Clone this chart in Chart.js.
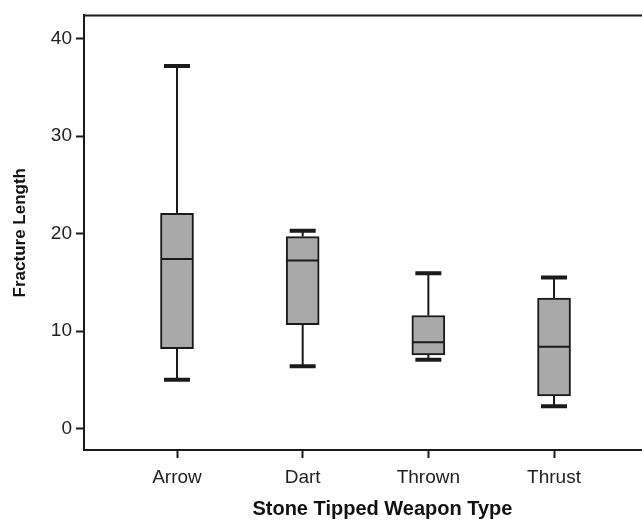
<!DOCTYPE html>
<html>
<head>
<meta charset="utf-8">
<script src="https://cdn.jsdelivr.net/npm/chart.js@4/dist/chart.umd.min.js"></script>
<style>
  html, body { margin: 0; padding: 0; background: #fff; }
  #box { width: 642px; height: 522px; }
</style>
</head>
<body>
<div id="box"><canvas id="boxChart" width="642" height="522"></canvas></div>
<script>
// weapon types and box plot stats
var weaponTypes = ['Arrow', 'Dart', 'Thrown', 'Thrust'];
var whiskerLow  = [5.0, 6.4, 7.05, 2.3];
var quart1      = [8.2, 10.65, 7.55, 3.35];
var medians     = [17.4, 17.25, 8.85, 8.4];
var quart3      = [22.1, 19.7, 11.6, 13.4];
var whiskerHigh = [37.2, 20.3, 15.95, 15.5];
var yTicks = [0, 10, 20, 30, 40];

var ink = '#1a1a1a';
var fontFam = '"Liberation Sans", Arial, Helvetica, sans-serif';

// whiskers, caps, medians and the top frame line
var boxExtras = {
  id: 'boxExtras',
  afterDatasetsDraw: function (chart) {
    var ctx = chart.ctx;
    var xs = chart.scales.x, ys = chart.scales.y;
    var area = chart.chartArea;
    ctx.save();
    ctx.strokeStyle = ink;
    ctx.lineCap = 'butt';
    for (var i = 0; i < weaponTypes.length; i++) {
      var x = xs.getPixelForValue(i + 1);
      ctx.lineWidth = 2;
      ctx.beginPath();
      ctx.moveTo(x, ys.getPixelForValue(quart3[i]));
      ctx.lineTo(x, ys.getPixelForValue(whiskerHigh[i]));
      ctx.moveTo(x, ys.getPixelForValue(quart1[i]));
      ctx.lineTo(x, ys.getPixelForValue(whiskerLow[i]));
      ctx.stroke();
      // median
      ctx.beginPath();
      ctx.moveTo(x - 16, ys.getPixelForValue(medians[i]));
      ctx.lineTo(x + 16, ys.getPixelForValue(medians[i]));
      ctx.stroke();
      // caps
      ctx.lineWidth = 4;
      ctx.beginPath();
      ctx.moveTo(x - 13, ys.getPixelForValue(whiskerHigh[i]));
      ctx.lineTo(x + 13, ys.getPixelForValue(whiskerHigh[i]));
      ctx.moveTo(x - 13, ys.getPixelForValue(whiskerLow[i]));
      ctx.lineTo(x + 13, ys.getPixelForValue(whiskerLow[i]));
      ctx.stroke();
    }
    ctx.lineWidth = 2;
    ctx.beginPath();
    ctx.moveTo(area.left - 1, area.top);
    ctx.lineTo(area.right, area.top);
    ctx.stroke();
    ctx.restore();
  }
};

var boxes = weaponTypes.map(function (t, i) {
  return { x: i + 1, y: [quart1[i], quart3[i]] };
});

new Chart(document.getElementById('boxChart'), {
  type: 'bar',
  data: {
    datasets: [{
      data: boxes,
      backgroundColor: '#a9a9a9',
      borderColor: ink,
      borderWidth: 2,
      borderSkipped: false,
      barThickness: 33
    }]
  },
  options: {
    responsive: false,
    animation: false,
    layout: { padding: { top: 13, right: 0, left: 0, bottom: 0 } },
    plugins: { legend: { display: false }, tooltip: { enabled: false } },
    scales: {
      x: {
        type: 'linear',
        offset: false,
        min: 0.26,
        max: 4.7,
        afterBuildTicks: function (scale) {
          scale.ticks = weaponTypes.map(function (t, i) { return { value: i + 1 }; });
        },
        afterFit: function (scale) { scale.height = 72; },
        ticks: {
          autoSkip: false,
          maxRotation: 0,
          padding: 8,
          color: '#222',
          font: { family: fontFam, size: 19 },
          callback: function (v) { return weaponTypes[v - 1]; }
        },
        grid: {
          offset: false,
          drawOnChartArea: false,
          tickLength: 8,
          tickWidth: 2,
          tickColor: ink
        },
        border: { display: true, color: ink, width: 2 },
        title: {
          display: true,
          // leading spaces nudge the title right, as in the original
          text: '       Stone Tipped Weapon Type',
          color: '#111',
          font: { family: fontFam, size: 20, weight: 'bold' },
          padding: { top: 0, bottom: 1 }
        }
      },
      y: {
        min: -2.2,
        max: 42.4,
        afterBuildTicks: function (scale) {
          scale.ticks = yTicks.map(function (v) { return { value: v }; });
        },
        afterFit: function (scale) { scale.width = 84; },
        ticks: {
          padding: 4,
          color: '#222',
          font: { family: fontFam, size: 19 }
        },
        grid: {
          drawOnChartArea: false,
          tickLength: 8,
          tickWidth: 2,
          tickColor: ink
        },
        border: { display: true, color: ink, width: 2 },
        title: {
          display: true,
          text: 'Fracture Length',
          color: '#111',
          font: { family: fontFam, size: 17, weight: 'bold' },
          padding: { top: 10, bottom: 0 }
        }
      }
    }
  },
  plugins: [boxExtras]
});
</script>
</body>
</html>
